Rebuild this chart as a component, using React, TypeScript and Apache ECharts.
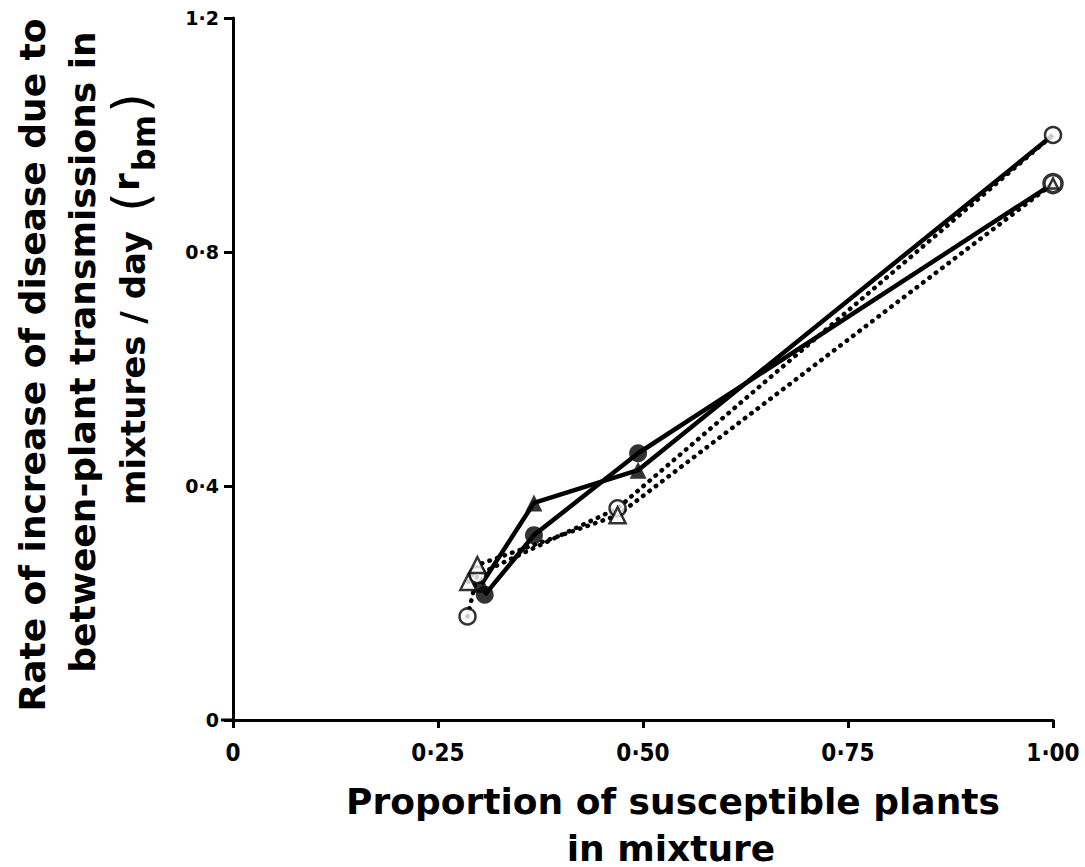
import React, { useEffect, useRef } from "react";
import * as echarts from "echarts";

// Tick labels
const xTickLabels = ["0", "0·25", "0·50", "0·75", "1·00"];
const yTickLabels = ["0", "0·4", "0·8", "1·2"];

// Series values (proportion of susceptible plants, rate r_bm)
const filledCircleX = [0.307, 0.367, 0.494, 1.0];
const filledCircleY = [0.214, 0.316, 0.456, 0.917];
const filledTriangleX = [0.303, 0.367, 0.494, 1.0];
const filledTriangleY = [0.232, 0.371, 0.427, 1.0];
const openCircleX = [0.286, 0.298, 0.469, 1.0];
const openCircleY = [0.177, 0.248, 0.362, 1.0];
const openTriangleX = [0.287, 0.298, 0.469, 1.0];
const openTriangleY = [0.236, 0.265, 0.35, 0.917];

const xTitle = ["Proportion of susceptible plants", "in mixture"];
const yTitle = ["Rate of increase of disease due to", "between-plant transmissions in", "mixtures / day"];

const pairs = (xs: number[], ys: number[]) => xs.map((x, i) => [x, ys[i]]);

export default function App() {
  const ref = useRef<HTMLDivElement>(null);
  useEffect(() => {
    if (!ref.current) return;
    const chart = echarts.init(ref.current, undefined, { renderer: "svg" });
    const black = "#000";
    const solid = { color: black, width: 4.5, type: "solid" as const };
    const dotted = { color: black, width: 4.5, type: [0.5, 7.5] as any, cap: "round" as const };
    const titleFont = { fontFamily: "DejaVu Sans", fontWeight: "bold" as const, fontSize: 36, fill: black };
    const lastIdx = filledCircleX.length - 1;

    chart.setOption({
      animation: false,
      grid: { left: 233, right: 32, top: 18, bottom: 147 },
      xAxis: {
        type: "value",
        min: 0,
        max: 1,
        interval: 0.25,
        axisLine: { onZero: false, lineStyle: { color: black, width: 3 } },
        axisTick: { length: 8, lineStyle: { color: black, width: 3 } },
        axisLabel: {
          formatter: (v: number) => xTickLabels[Math.round(v / 0.25)],
          fontFamily: "DejaVu Sans Condensed",
          fontWeight: "bold",
          fontSize: 24,
          color: black,
          margin: 21,
        },
        splitLine: { show: false },
      },
      yAxis: {
        type: "value",
        min: 0,
        max: 1.2,
        interval: 0.4,
        axisLine: { show: true, onZero: false, lineStyle: { color: black, width: 3 } },
        axisTick: { show: true, length: 9, lineStyle: { color: black, width: 3 } },
        axisLabel: {
          formatter: (v: number) => yTickLabels[Math.round(v / 0.4)],
          fontFamily: "DejaVu Sans",
          fontWeight: "bold",
          fontSize: 19,
          color: black,
          margin: 14,
        },
        splitLine: { show: false },
      },
      graphic: [
        { type: "line", shape: { x1: 221, y1: 720, x2: 233, y2: 720 }, style: { stroke: black, lineWidth: 3 } },
        { type: "text", x: 673, y: 801, style: { ...titleFont, text: xTitle[0], align: "center", verticalAlign: "middle" } },
        { type: "text", x: 671, y: 848, style: { ...titleFont, text: xTitle[1], align: "center", verticalAlign: "middle" } },
        { type: "text", x: 32, y: 365, rotation: Math.PI / 2, style: { ...titleFont, text: yTitle[0], align: "center", verticalAlign: "middle" } },
        { type: "text", x: 82, y: 352, rotation: Math.PI / 2, style: { ...titleFont, text: yTitle[1], align: "center", verticalAlign: "middle" } },
        { type: "text", x: 133, y: 505, rotation: Math.PI / 2, style: { ...titleFont, fontSize: 34, text: yTitle[2], align: "left", verticalAlign: "middle" } },
        { type: "text", x: 131, y: 202, rotation: Math.PI / 2, style: { fontFamily: "DejaVu Sans", fontSize: 50, fill: black, text: "(", align: "center", verticalAlign: "middle" } },
        { type: "text", x: 126, y: 182, rotation: Math.PI / 2, style: { ...titleFont, text: "r", align: "center", verticalAlign: "middle" } },
        { type: "text", x: 144, y: 143, rotation: Math.PI / 2, style: { ...titleFont, fontSize: 32, text: "bm", align: "center", verticalAlign: "middle" } },
        { type: "text", x: 131, y: 103, rotation: Math.PI / 2, style: { fontFamily: "DejaVu Sans", fontSize: 50, fill: black, text: ")", align: "center", verticalAlign: "middle" } },
      ],
      series: [
        { type: "line", data: pairs(openCircleX, openCircleY), symbol: "none", lineStyle: dotted, z: 2 },
        { type: "line", data: pairs(openTriangleX, openTriangleY), symbol: "none", lineStyle: dotted, z: 2 },
        { type: "line", data: pairs(filledCircleX, filledCircleY), symbol: "none", lineStyle: solid, z: 3 },
        { type: "line", data: pairs(filledTriangleX, filledTriangleY), symbol: "none", lineStyle: solid, z: 3 },
        {
          type: "scatter",
          z: 5,
          symbol: "triangle",
          symbolSize: 17,
          itemStyle: { color: black },
          data: pairs(filledTriangleX, filledTriangleY).map((p, i) => (i === lastIdx ? { value: p, symbol: "none" } : p)),
        },
        {
          type: "scatter",
          z: 6,
          symbol: "circle",
          symbolSize: 18,
          itemStyle: { color: black },
          data: pairs(filledCircleX, filledCircleY).map((p, i) =>
            i === lastIdx ? { value: p, itemStyle: { color: "#fff", borderColor: black, borderWidth: 3.5 } } : p
          ),
        },
        {
          type: "scatter",
          z: 7,
          symbol: "circle",
          symbolSize: 16,
          itemStyle: { color: "#fff", borderColor: black, borderWidth: 2.5 },
          data: pairs(openCircleX, openCircleY),
        },
        {
          type: "scatter",
          z: 8,
          symbol: "triangle",
          symbolSize: 16,
          itemStyle: { color: "#fff", borderColor: black, borderWidth: 2.5 },
          data: pairs(openTriangleX, openTriangleY).map((p, i) => (i === lastIdx ? { value: p, symbolSize: 10 } : p)),
        },
      ],
    });
    return () => chart.dispose();
  }, []);
  return <div ref={ref} style={{ position: "absolute", left: 0, top: 0, width: 1085, height: 867 }} />;
}
